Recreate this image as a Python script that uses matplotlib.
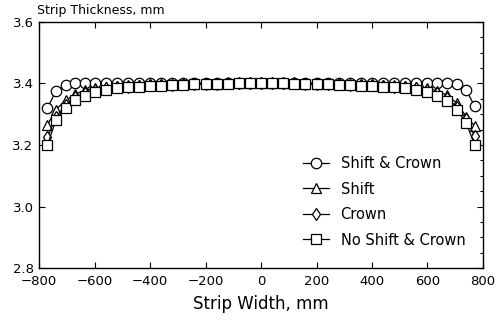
import matplotlib
matplotlib.use("Agg")
import matplotlib.pyplot as plt
from matplotlib.ticker import MultipleLocator

plt.rcParams['font.family'] = ['DejaVu Sans']

# posiciones a lo ancho de la banda (mm)
ancho = [-770, -740, -705, -670, -635, -600, -560, -520, -480, -440, -400,
         -360, -320, -280, -240, -200, -160, -120, -80, -40, 0,
         40, 80, 120, 160, 200, 240, 280, 320, 360, 400,
         440, 480, 520, 560, 600, 635, 670, 705, 740, 770]

shift_crown = [3.320, 3.375, 3.395, 3.400, 3.401, 3.401, 3.401, 3.401, 3.401, 3.401, 3.401,
               3.401, 3.401, 3.401, 3.401, 3.401, 3.401, 3.401, 3.401, 3.401, 3.401,
               3.401, 3.401, 3.401, 3.401, 3.401, 3.401, 3.401, 3.401, 3.401, 3.401,
               3.401, 3.401, 3.401, 3.401, 3.401, 3.401, 3.400, 3.397, 3.378, 3.327]

shift = [3.265, 3.315, 3.345, 3.365, 3.378, 3.385, 3.390, 3.393, 3.395, 3.396, 3.397,
         3.397, 3.398, 3.398, 3.399, 3.399, 3.399, 3.400, 3.400, 3.400, 3.400,
         3.400, 3.400, 3.400, 3.399, 3.399, 3.399, 3.398, 3.398, 3.397, 3.397,
         3.396, 3.395, 3.393, 3.390, 3.385, 3.376, 3.362, 3.337, 3.292, 3.262]

crown = [3.225, 3.290, 3.330, 3.355, 3.370, 3.380, 3.385, 3.388, 3.390, 3.392, 3.394,
         3.395, 3.396, 3.397, 3.398, 3.399, 3.399, 3.400, 3.400, 3.400, 3.400,
         3.400, 3.400, 3.400, 3.399, 3.399, 3.398, 3.397, 3.396, 3.395, 3.394,
         3.392, 3.390, 3.388, 3.385, 3.380, 3.368, 3.352, 3.325, 3.285, 3.228]

no_shift_crown = [3.200, 3.280, 3.320, 3.345, 3.360, 3.372, 3.380, 3.384, 3.387, 3.389, 3.391,
                  3.393, 3.394, 3.396, 3.397, 3.398, 3.399, 3.399, 3.400, 3.400, 3.400,
                  3.400, 3.400, 3.399, 3.399, 3.398, 3.397, 3.396, 3.394, 3.393, 3.391,
                  3.389, 3.387, 3.384, 3.380, 3.372, 3.358, 3.342, 3.315, 3.272, 3.200]

series = [
    (shift_crown, 'o', 'Shift & Crown'),
    (shift, '^', 'Shift'),
    (crown, 'd', 'Crown'),
    (no_shift_crown, 's', 'No Shift & Crown'),
]

fig = plt.figure(figsize=(5.02, 3.23), dpi=100)
ax = fig.add_axes([0.078, 0.170, 0.884, 0.762])

for valores, marca, nombre in series:
    tam = 7.5 if marca != 'd' else 6.5
    ax.plot(ancho, valores, color='black', lw=0.9, marker=marca, ms=tam,
            mfc='white', mec='black', mew=0.9, label=nombre)

ax.set_xlim(-800, 800)
ax.set_ylim(2.8, 3.6)
ax.xaxis.set_major_locator(MultipleLocator(200))
ax.yaxis.set_major_locator(MultipleLocator(0.2))
ax.yaxis.set_minor_locator(MultipleLocator(0.05))
ax.tick_params(which='both', direction='in', top=True, right=True, labelsize=9.5,
               width=0.8)
ax.tick_params(which='major', length=4)
ax.tick_params(axis='x', pad=5)
ax.tick_params(axis='y', pad=4)
ax.tick_params(which='minor', length=2, left=False)
ax.set_yticklabels(['%.1f' % v for v in ax.get_yticks()])
for s in ax.spines.values():
    s.set_linewidth(1.0)

ax.set_xlabel('Strip Width, mm', fontsize=12, labelpad=5)
fig.text(0.074, 0.968, 'Strip Thickness, mm', fontsize=9, va='center', ha='left')

leg = ax.legend(loc='lower right', bbox_to_anchor=(0.99, 0.03), frameon=False,
                fontsize=10.5, handlelength=1.8, labelspacing=0.72, handletextpad=0.8)

fig.savefig('out.png', dpi=100)
